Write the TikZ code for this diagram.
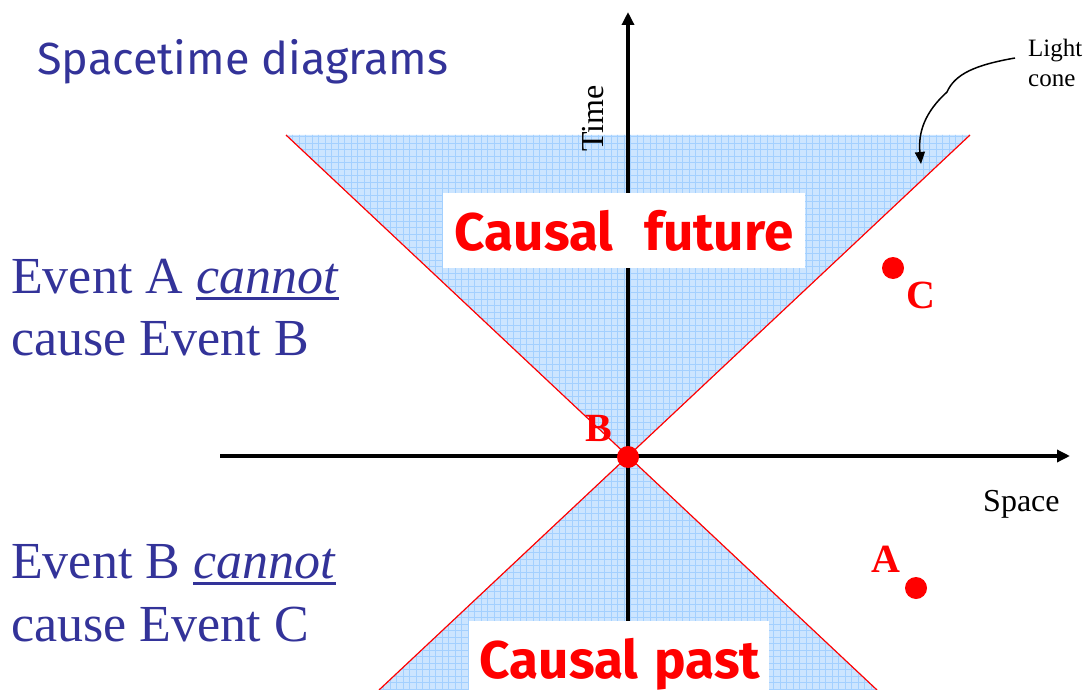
\documentclass[tikz,border=0pt]{standalone}
\usepackage{fontspec}
\setmainfont{Liberation Serif}
\newfontfamily\casual{Fira Sans}
\usetikzlibrary{arrows.meta}
\definecolor{ttlblue}{HTML}{333399}
\definecolor{conefill}{HTML}{CCE5FF}
\definecolor{conegrid}{HTML}{A3D0FF}
\definecolor{evred}{HTML}{FF0000}
\newcommand\thickul[1]{\leavevmode\vtop{\hbox{#1}\kern3.6pt\hrule height 2.6pt}}
\tikzset{
  axisline/.style={line width=3.6pt,-{Triangle[length=13pt,width=12pt]}},
  coneedge/.style={evred,line width=1.2pt},
  gridlines/.style={conegrid,line width=0.5pt},
  evdot/.style={circle,fill=evred,minimum size=22pt,inner sep=0pt},
  evlabel/.style={text=evred,font=\fontsize{40}{48}\selectfont\bfseries,inner sep=0pt,anchor=base west},
  bluetext/.style={text=ttlblue,font=\fontsize{52}{62}\selectfont,inner sep=0pt,anchor=base west},
  whitebox/.style={fill=white,draw=none,inner sep=0pt},
  causaltext/.style={text=evred,font=\casual\bfseries\fontsize{53}{62}\selectfont,inner sep=0pt,anchor=base},
  axislabel/.style={font=\fontsize{32}{38}\selectfont,inner sep=0pt,anchor=base west}
}
\begin{document}
\begin{tikzpicture}[x=1pt,y=-1pt]
\useasboundingbox (0,0) rectangle (1087,690);
% light cone regions
\fill[conefill] (286,135) -- (970,135) -- (628,456) -- cycle;
\fill[conefill] (628,456) -- (379,690) -- (877,690) -- cycle;
\begin{scope}
  \clip (286,135) -- (970,135) -- (628,456) -- cycle;
  \draw[gridlines,step=6.5pt] (280,130) grid (980,460);
\end{scope}
\begin{scope}
  \clip (628,456) -- (379,690) -- (877,690) -- cycle;
  \draw[gridlines,step=6.5pt] (370,450) grid (890,700);
\end{scope}
% cone edges
\draw[coneedge] (286,135) -- (877,690);
\draw[coneedge] (970,135) -- (379,690);
% axes
\coordinate (tbot) at (628,690);
\coordinate (ttop) at (628,12);
\coordinate (sl) at (220,456);
\coordinate (sr) at (1070,456);
\draw[axisline] (tbot) -- (ttop);
\draw[axisline] (sl) -- (sr);
% boxes
\node[whitebox,minimum width=362pt,minimum height=75pt] (futbox) at (624,230.5) {};
\node[causaltext] (futtext) at (624,250) {Causal\hspace{31pt}future};
\node[whitebox,minimum width=300pt,minimum height=80pt] (pastbox) at (619,661) {};
\node[causaltext] (pasttext) at (620,678) {Causal\hspace{16pt}past};
% title
\node[text=ttlblue,font=\casual\fontsize{45}{52}\selectfont,inner sep=0pt,anchor=base west] (title) at (37,75) {Spacetime diagrams};
% axis labels
\node[axislabel,rotate=90] (timelbl) at (603,152) {Time};
\node[axislabel] (spacelbl) at (983,511) {Space};
% light cone label
\node[font=\fontsize{25}{30}\selectfont,inner sep=0pt,anchor=base west] (lc1) at (1028,57) {Light};
\node[font=\fontsize{25}{30}\selectfont,inner sep=0pt,anchor=base west] (lc2) at (1028,87) {cone};
\coordinate (lcs) at (1015,58);
\coordinate (lce) at (921,164);
\draw[line width=1.5pt,-{Triangle[length=12pt,width=10pt]}] (lcs) .. controls (975,65) and (955,74) .. (947,92) .. controls (925,112) and (918,132) .. (lce);
% events
\node[evdot] (B) at (628,457) {};
\node[evdot] (C) at (893,268) {};
\node[evdot] (A) at (916,588) {};
\node[evlabel] (Blbl) at (585,441) {B};
\node[evlabel] (Clbl) at (906,308) {C};
\node[evlabel] (Albl) at (871,572) {A};
% left statements
\node[bluetext] (s1a) at (11,293) {Event A \thickul{\textit{cannot}}};
\node[bluetext] (s1b) at (11,355) {cause Event B};
\node[bluetext] (s2a) at (11,578) {Event B \thickul{\textit{cannot}}};
\node[bluetext] (s2b) at (11,641) {cause Event C};
\end{tikzpicture}
\end{document}
